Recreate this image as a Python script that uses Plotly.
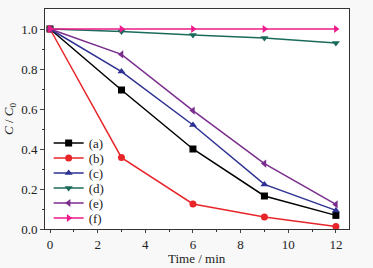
import plotly.graph_objects as go

time = [0, 3, 6, 9, 12]
series_names = ["(a)", "(b)", "(c)", "(d)", "(e)", "(f)"]
a_vals = [1.0, 0.695, 0.40, 0.165, 0.068]
b_vals = [1.0, 0.357, 0.125, 0.060, 0.012]
c_vals = [1.0, 0.787, 0.520, 0.223, 0.093]
d_vals = [1.0, 0.988, 0.970, 0.955, 0.930]
e_vals = [1.0, 0.873, 0.592, 0.327, 0.123]
f_vals = [1.0, 1.0, 1.0, 1.0, 1.0]

all_vals = [a_vals, b_vals, c_vals, d_vals, e_vals, f_vals]
colors = ["#000000", "#e8262a", "#2e3192", "#1a6b5a", "#7b2d8e", "#ec1a8a"]
symbols = ["square", "circle", "triangle-up", "triangle-down", "triangle-left", "triangle-right"]

font = "Liberation Serif"
fig = go.Figure()
legend_layout = {}
for i, (name, vals, col, sym) in enumerate(zip(series_names, all_vals, colors, symbols)):
    lg = "legend" if i == 0 else f"legend{i + 1}"
    fig.add_trace(go.Scatter(
        x=time, y=vals, name=name, mode="lines+markers",
        line=dict(color=col, width=1.5),
        marker=dict(symbol=sym, size=7, color=col),
        legend=lg,
    ))
    yc = 143 + 15 * i
    legend_layout[lg] = dict(
        x=0.012, y=(229 - yc) / 220, xanchor="left", yanchor="middle",
        bgcolor="rgba(0,0,0,0)", font=dict(size=13, family=font, color="#222"),
        itemwidth=30,
    )

fig.update_layout(
    width=373, height=268,
    margin=dict(l=45, r=24, t=9, b=39),
    paper_bgcolor="#f8f8f8", plot_bgcolor="#ffffff",
    font=dict(family=font, size=13, color="#222"),
    showlegend=True,
    xaxis=dict(range=[-0.21, 12.55], tickvals=[0, 2, 4, 6, 8, 10, 12],
               ticks="outside", ticklen=3, showline=True, linecolor="#333",
               mirror=True, showgrid=False, zeroline=False,
               minor=dict(tickvals=[1, 3, 5, 7, 9, 11], ticks="outside", ticklen=2, tickcolor="#333"),
               tickfont=dict(size=13, family=font)),
    yaxis=dict(range=[0, 1.1], tickvals=[0, 0.2, 0.4, 0.6, 0.8, 1.0],
               ticktext=["0.0", "0.2", "0.4", "0.6", "0.8", "1.0"],
               ticks="outside", ticklen=4, showline=True, linecolor="#333",
               mirror=True, showgrid=False, zeroline=False,
               minor=dict(tickvals=[0.1, 0.3, 0.5, 0.7, 0.9], ticks="outside", ticklen=2, tickcolor="#333"),
               title=dict(text="<i>C</i> / <i>C</i><sub>0</sub>", standoff=4, font=dict(size=13, family=font)),
               tickfont=dict(size=13, family=font)),
    annotations=[dict(text="Time / min", xref="paper", yref="paper", x=0.5, y=-0.135,
                      xanchor="center", yanchor="middle", showarrow=False,
                      font=dict(size=13, family=font, color="#222"))],
    **legend_layout,
)
fig.write_html("out.html", config={"displayModeBar": False},
               post_script="document.body.style.margin='0';")
